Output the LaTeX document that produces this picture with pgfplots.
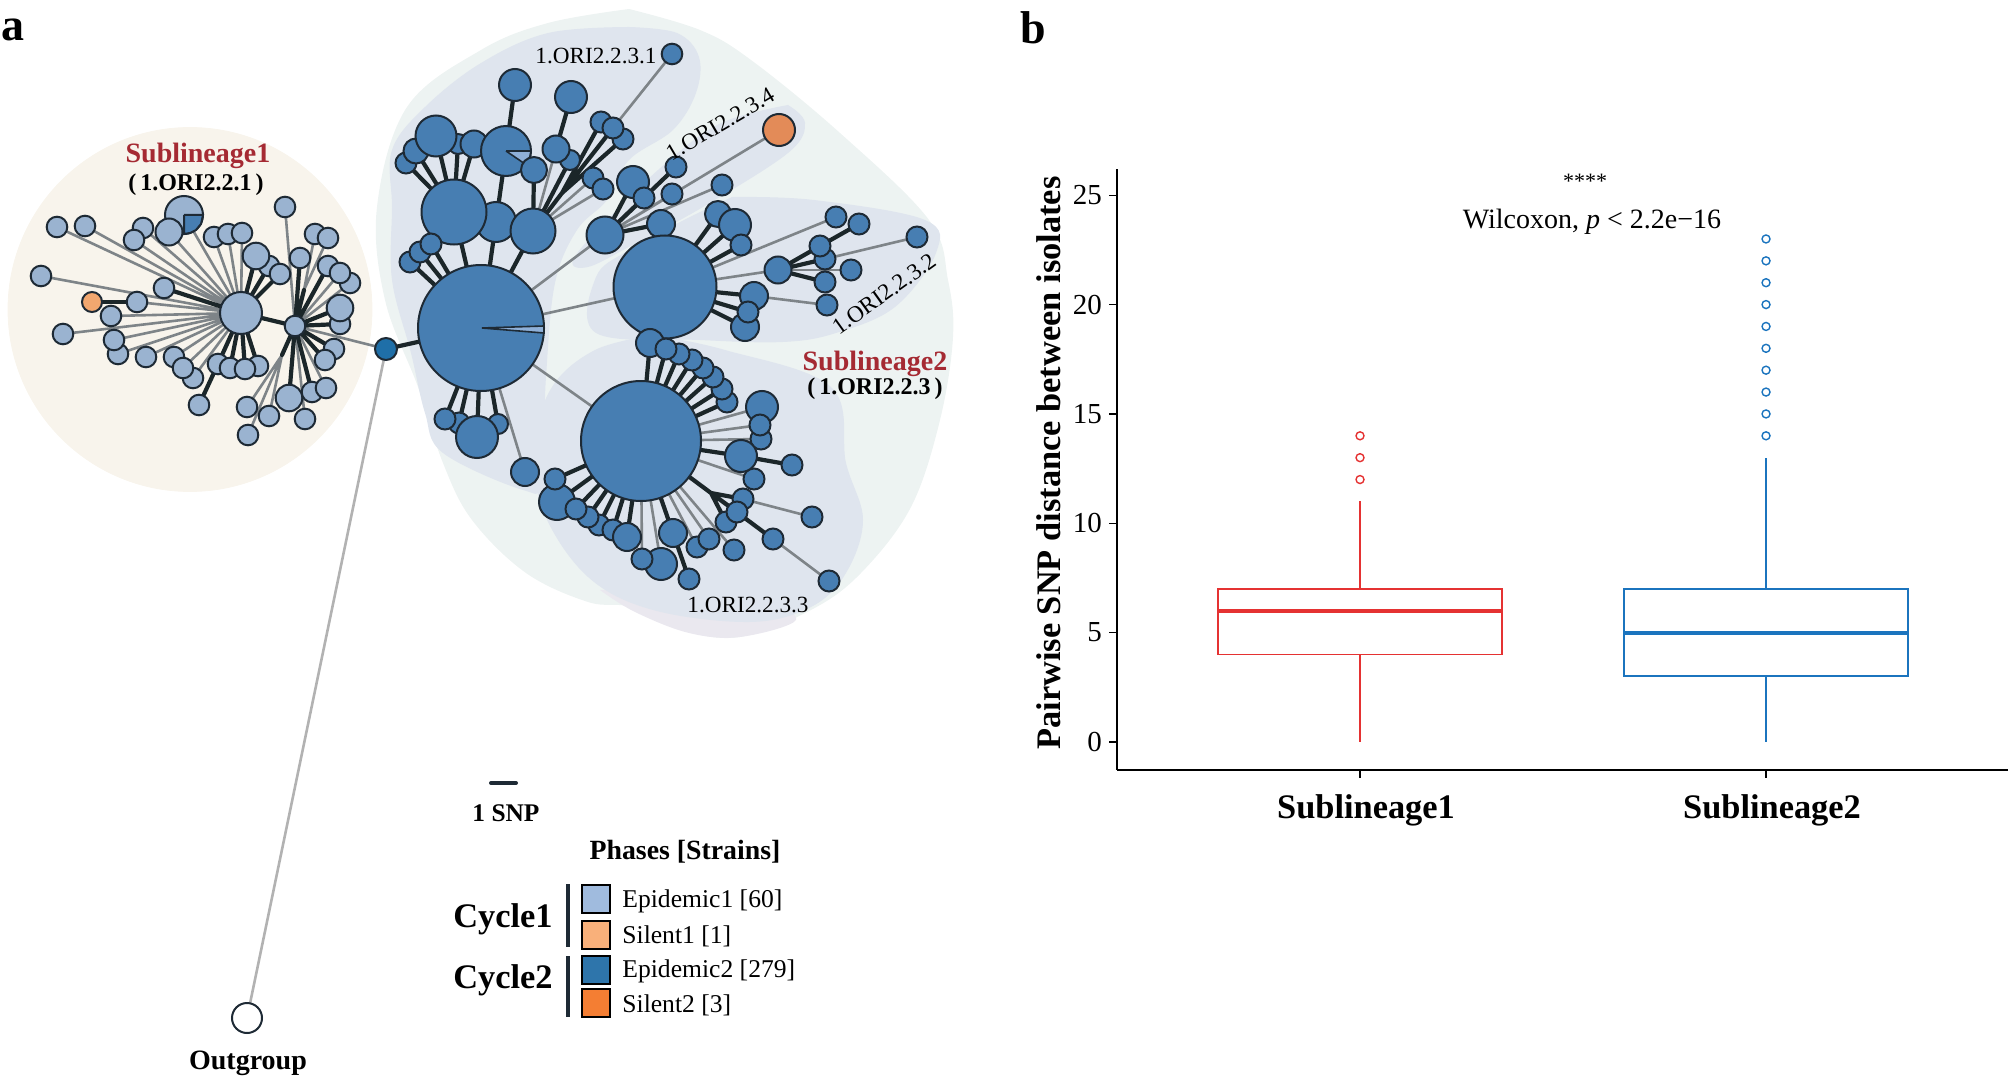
\documentclass[border=0pt]{standalone}
\usepackage{fontspec}
\setmainfont{Liberation Serif}
\usepackage{pgfplots}
\pgfplotsset{compat=1.18}
\usepackage{pgfplotstable}
\usepgfplotslibrary{statistics}

\definecolor{blobbase}{HTML}{F8F4EC}
\definecolor{bloblight}{HTML}{EDF3F2}
\definecolor{blobinner}{HTML}{DFE5EE}
\definecolor{bloblilac}{HTML}{EAE8EF}
\definecolor{epione}{HTML}{9AB3D0}
\definecolor{epitwo}{HTML}{477EB2}
\definecolor{silone}{HTML}{F2A76F}
\definecolor{siltwo}{HTML}{E38B58}
\definecolor{rootnode}{HTML}{1F6FA8}
\definecolor{slicelight}{HTML}{8FB0D8}
\definecolor{nodeedge}{HTML}{1E2A35}
\definecolor{edgedark}{HTML}{1B2629}
\definecolor{edgegray}{HTML}{7E8488}
\definecolor{titlered}{HTML}{A52A33}
\definecolor{boxred}{HTML}{E53232}
\definecolor{boxblue}{HTML}{1B74BE}
\definecolor{legA}{HTML}{A0BBDE}
\definecolor{legB}{HTML}{F9B07A}
\definecolor{legC}{HTML}{2E75AB}
\definecolor{legD}{HTML}{F47E33}

\pgfplotsset{
  canvas/.style={at={(0,0)}, anchor=south west,
    scale only axis, width=1004pt, height=540pt,
    xmin=0, xmax=2008, ymin=0, ymax=1080, y dir=reverse,
    hide axis, clip=false},
  netnode/.style={scatter, only marks, mark=*, scatter src=x,
    visualization depends on={\thisrow{r}/2 \as \rr},
    scatter/@pre marker code/.code={\scope[mark size=\rr]},
    scatter/@post marker code/.code={\endscope},
    mark options={fill=#1, draw=nodeedge, line width=1pt}},
  darkedge/.style={no marks, draw=edgedark, line width=2.1pt, line join=round, line cap=round},
  grayedge/.style={no marks, draw=edgegray, line width=1.3pt, line join=round, line cap=round},
  blob/.style={no marks, draw=none, fill=#1, smooth, tension=0.6},
}

% nodes, in pixels of the reference: x y radius
\pgfplotstableread{
x y r
57 227 10.3
85 226 10.3
41 276 10.3
63 334 10.3
111 316 10.3
137 302 10.3
164 288 10.3
118 354 10.3
114 340 10.3
146 357 10.3
174 357 10.3
193 378 10.3
183 368 10.3
199 405 10.3
218 364 10.3
258 366 10.3
230 368 10.3
245 369 10.3
143 228 10.3
134 240 10.3
184 215 19
214 237 10.3
228 234 10.3
242 233 10.3
269 266 10.3
280 274 10.3
256 256 13.3
285 207 10.3
300 258 10.3
315 234 10.3
328 238 10.3
328 266 10.3
350 283 10.3
340 273 10.3
340 324 10.3
340 308 13.3
334 349 10.3
325 360 10.3
312 392 10.3
326 388 10.3
289 398 13.3
247 407 10.3
269 416 10.3
305 419 10.3
248 435 10.3
241 313 21
295 326 10.3
}\nodesone

\pgfplotstableread{
x y r
672 54 10.3
515 85 16
571 97 16
623 139 10.5
601 122 10.5
613 128 10.5
406 163 10.5
416 151 12.5
458 144 10
474 144 13.5
436 136 20.5
506 151 25
570 160 10
556 149 13.5
593 178 10.5
603 189 10.5
496 222 20
454 212 32.5
533 231 22.5
605 235 18.5
633 182 16
644 198 10.5
676 167 10.5
672 194 10.5
722 185 10.5
661 224 14
410 262 10.5
420 252 10.5
431 244 10.5
718 214 13
735 225 16
741 245 10.5
836 217 10.5
859 224 10.5
917 237 10.5
825 259 10.5
820 246 10.5
778 270 13.5
851 270 10.5
825 282 10.5
827 305 10.5
745 327 14
754 296 14
748 312 10.5
665 287 51.5
727 402 10.5
722 389 10.5
713 377 10.5
703 368 10.5
692 360 10.5
679 354 10.5
650 343 14
666 349 10.5
762 407 16
761 439 10.5
760 425 10.5
754 479 10.5
741 456 16
792 465 10.5
812 517 10.5
743 499 10.5
726 522 10.5
737 512 10.5
773 539 10.5
829 581 10.5
734 550 10.5
697 547 10.5
709 539 10.5
673 533 14
689 579 10.5
661 564 16
642 559 10.5
599 525 10.5
613 530 10.5
627 537 14
588 517 10.5
557 502 18
576 509 10.5
555 479 10.5
641 441 60
498 424 10
459 423 10.5
445 419 10.5
477 437 21
525 472 14
481 328 63
}\nodestwo

\begin{document}
\begin{tikzpicture}
\useasboundingbox (0,0) rectangle (1004pt,540pt);

% panel a: whole page as an axis in reference pixels, marks land above all
% paths of one axis, hence three stacked axes
\begin{axis}[canvas]
\addplot[blob=bloblight] coordinates {
  (629,9) (700,30) (751,60) (840,133) (929,220) (948,280) (953,337) (940,420)
  (911,507) (861,573) (811,610) (740,637) (682,630) (631,607) (588,602) (526,573)
  (472,520) (443,463) (418,387) (385,300) (377,207) (407,107) (481,50) (548,23) (629,9)};
\addplot[blob=bloblilac] coordinates {
  (600,590) (635,612) (689,633) (740,637) (796,620) (760,600) (680,590) (600,590)};
\addplot[blob=blobinner] coordinates {
  (629,27) (677,33) (699,57) (696,93) (673,130) (629,160) (607,200) (577,230)
  (555,283) (546,377) (541,480) (523,490) (443,453) (425,413) (411,353) (392,280)
  (392,207) (392,150) (425,107) (481,63) (548,33) (629,27)};
\addplot[blob=blobinner] coordinates {
  (788,105) (805,123) (788,153) (703,207) (629,247) (588,267) (573,260) (607,220)
  (666,163) (721,123) (788,105)};
\addplot[blob=blobinner] coordinates {
  (732,197) (814,200) (925,220) (936,253) (895,307) (836,333) (783,342) (700,340)
  (596,333) (596,277) (629,250) (684,220) (732,197)};
\addplot[blob=blobinner] coordinates {
  (653,335) (725,350) (831,387) (846,463) (863,520) (846,573) (811,607) (750,622)
  (653,610) (588,577) (544,513) (534,447) (552,387) (595,350) (653,335)};
\addplot[netnode=blobbase, mark options={draw=blobbase, fill=blobbase}] table {
x y r
190 309.5 182
};
\end{axis}

\begin{axis}[canvas]
% outgroup branch
\addplot[no marks, draw=black!30, line width=1.3pt] coordinates {(386,349) (247,1018)};

% sublineage 1 edges
\addplot[grayedge] coordinates {(241,313)(57,227)(241,313)(85,226)(241,313)(41,276)(241,313)(63,334)
  (241,313)(111,316)(241,313)(137,302)(241,313)(114,340)(241,313)(118,354)(241,313)(146,357)
  (241,313)(174,357)(241,313)(183,368)(241,313)(193,378)(241,313)(143,228)(241,313)(134,240)
  (241,313)(184,215)(241,313)(169,232)(241,313)(214,237)(241,313)(228,234)(241,313)(242,233)};
\addplot[darkedge] coordinates {(241,313)(164,288)(241,313)(256,256)(241,313)(269,266)(241,313)(280,274)
  (241,313)(218,364)(241,313)(230,368)(241,313)(245,369)(241,313)(258,366)(241,313)(295,326)};
\addplot[darkedge] coordinates {(218,364)(199,405)};
\addplot[darkedge] coordinates {(92,302)(137,302)};
\addplot[grayedge] coordinates {(295,326)(285,207)(295,326)(350,283)(295,326)(340,273)(295,326)(326,388)
  (295,326)(305,419)(295,326)(386,349)};
\addplot[grayedge] coordinates {(304,290)(315,234)(304,290)(328,238)};
\addplot[grayedge] coordinates {(282,355)(247,407)(282,355)(269,416)(282,355)(248,435)};
\addplot[darkedge] coordinates {(295,326)(300,258)(295,326)(304,290)(295,326)(328,266)(295,326)(340,308)
  (295,326)(340,324)(295,326)(334,349)(295,326)(325,360)(295,326)(289,398)(295,326)(312,392)(295,326)(282,355)};

% sublineage 2 edges
\addplot[darkedge] coordinates {(386,349)(481,328)};
\addplot[grayedge] coordinates {(481,328)(605,235)(481,328)(665,287)(481,328)(641,441)(481,328)(525,472)};
\addplot[darkedge] coordinates {(481,328)(454,212)(481,328)(496,222)(481,328)(533,231)(481,328)(410,262)
  (481,328)(420,252)(481,328)(431,244)(481,328)(445,419)(481,328)(459,423)(481,328)(477,437)(481,328)(498,424)};
\addplot[darkedge] coordinates {(454,212)(406,163)(454,212)(416,151)(454,212)(436,136)(454,212)(458,144)(454,212)(474,144)};
\addplot[darkedge] coordinates {(496,222)(506,151)(515,85)};
\addplot[darkedge] coordinates {(533,231)(534,170)};
\addplot[darkedge] coordinates {(533,231)(570,160)};
\addplot[darkedge] coordinates {(556,149)(571,97)};
\addplot[darkedge] coordinates {(533,231)(562,193)(601,122)(562,193)(613,128)(562,193)(623,139)};
\addplot[grayedge] coordinates {(533,231)(556,149)};
\addplot[grayedge] coordinates {(533,231)(603,189)};
\addplot[grayedge] coordinates {(533,231)(593,178)};
\addplot[grayedge] coordinates {(613,128)(672,54)};
\addplot[darkedge] coordinates {(605,235)(633,182)(605,235)(644,198)(605,235)(676,167)(605,235)(661,224)};
\addplot[grayedge] coordinates {(605,235)(672,194)(605,235)(722,185)(605,235)(779,130)};
\addplot[darkedge] coordinates {(665,287)(718,214)(665,287)(735,225)(665,287)(741,245)(665,287)(754,296)(665,287)(748,312)(665,287)(745,327)};
\addplot[grayedge] coordinates {(665,287)(836,217)(665,287)(778,270)};
\addplot[darkedge] coordinates {(778,270)(820,246)(859,224)(820,246)(778,270)(825,259)(778,270)(825,282)};
\addplot[grayedge] coordinates {(778,270)(851,270)};
\addplot[grayedge] coordinates {(825,259)(917,237)};
\addplot[grayedge] coordinates {(754,296)(827,305)};
\addplot[darkedge] coordinates {(641,441)(650,343)(641,441)(666,349)(641,441)(679,354)(641,441)(692,360)(641,441)(703,368)
  (641,441)(713,377)(641,441)(722,389)(641,441)(727,402)(641,441)(741,456)(792,465)};
\addplot[grayedge] coordinates {(641,441)(762,407)(641,441)(760,425)(641,441)(761,439)(641,441)(754,479)(641,441)(734,550)
  (641,441)(709,539)(641,441)(697,547)(641,441)(642,559)(641,441)(661,564)};
\addplot[darkedge] coordinates {(641,441)(711,493)(743,499)(711,493)(737,512)(711,493)(726,522)(711,493)(773,539)};
\addplot[grayedge] coordinates {(743,499)(812,517)};
\addplot[grayedge] coordinates {(773,539)(829,581)};
\addplot[darkedge] coordinates {(641,441)(673,533)(689,579)};
\addplot[darkedge] coordinates {(641,441)(627,537)(641,441)(613,530)(641,441)(599,525)(641,441)(588,517)(641,441)(576,509)
  (641,441)(557,502)(641,441)(555,479)};

% nodes
\addplot[netnode=epione] table {\nodesone};
\addplot[netnode=silone] table {
x y r
92 302 10
};
\addplot[netnode=rootnode] table {
x y r
386 349 11
};
\addplot[netnode=epitwo] table {\nodestwo};
\addplot[netnode=siltwo] table {
x y r
779 130 16
};
\addplot[netnode=white] table {
x y r
247 1018 15
};
\end{axis}

\begin{axis}[canvas]
% mixed nodes: their slices, and what lies over those
\addplot[fill=epitwo, draw=nodeedge, line width=1pt, no marks] coordinates {
  (184,215)(203,215)(201,224)(196,230)(190,233)(184,234)(184,215)};
\addplot[fill=slicelight, draw=nodeedge, line width=0.8pt, no marks] coordinates {
  (506,151)(531,151)(528,166)(506,151)};
\addplot[fill=slicelight, draw=nodeedge, line width=0.8pt, no marks] coordinates {
  (482,328)(544,326)(544,333)(482,328)};
\addplot[netnode=epione] table {
x y r
169 232 13.5
};
\addplot[netnode=epitwo] table {
x y r
534 170 13
};

% legend
\addplot[no marks, draw=nodeedge, line width=2pt, line cap=round] coordinates {(491,783)(516,783)};
\addplot[no marks, draw=nodeedge, line width=1.6pt] coordinates {(568,884)(568,947)};
\addplot[no marks, draw=nodeedge, line width=1.6pt] coordinates {(568,956)(568,1017)};
\addplot[only marks, mark=square*, mark size=7pt, mark options={fill=legA, draw=black, line width=1.2pt}] coordinates {(596,899)};
\addplot[only marks, mark=square*, mark size=7pt, mark options={fill=legB, draw=black, line width=1.2pt}] coordinates {(596,935)};
\addplot[only marks, mark=square*, mark size=7pt, mark options={fill=legC, draw=black, line width=1.2pt}] coordinates {(596,970)};
\addplot[only marks, mark=square*, mark size=7pt, mark options={fill=legD, draw=black, line width=1.2pt}] coordinates {(596,1003)};

% texts
\node[font=\bfseries\fontsize{23}{23}\selectfont] at (13,30) {a};
\node[font=\bfseries\fontsize{23}{23}\selectfont] at (1033,28) {b};
\node[font=\bfseries\fontsize{14}{14}\selectfont, text=titlered] at (198,156) {Sublineage1};
\node[font=\bfseries\fontsize{12}{14}\selectfont] at (196,185) {(\,1.ORI2.2.1\,)};
\node[font=\bfseries\fontsize{14}{14}\selectfont, text=titlered] at (875,364) {Sublineage2};
\node[font=\bfseries\fontsize{12}{14}\selectfont] at (875,389) {(\,1.ORI2.2.3\,)};
\node[font=\fontsize{11.6}{14}\selectfont] at (596,56) {1.ORI2.2.3.1};
\node[font=\fontsize{11.6}{14}\selectfont, rotate=30.5] at (720,124) {1.ORI2.2.3.4};
\node[font=\fontsize{11.6}{14}\selectfont, rotate=35.6] at (884,294) {1.ORI2.2.3.2};
\node[font=\fontsize{11.6}{14}\selectfont] at (748,605) {1.ORI2.2.3.3};
\node[font=\bfseries\fontsize{12.7}{14}\selectfont] at (506,813) {1 SNP};
\node[font=\bfseries\fontsize{13.9}{14}\selectfont] at (685,852) {Phases [Strains]};
\node[font=\bfseries\fontsize{17.2}{18}\selectfont] at (503,919) {Cycle1};
\node[font=\bfseries\fontsize{17.2}{18}\selectfont] at (503,980) {Cycle2};
\node[font=\fontsize{12.8}{14}\selectfont, anchor=west, inner sep=0pt] at (622,901) {Epidemic1 [60]};
\node[font=\fontsize{12.8}{14}\selectfont, anchor=west, inner sep=0pt] at (622,936) {Silent1 [1]};
\node[font=\fontsize{12.8}{14}\selectfont, anchor=west, inner sep=0pt] at (622,971) {Epidemic2 [279]};
\node[font=\fontsize{12.8}{14}\selectfont, anchor=west, inner sep=0pt] at (622,1005) {Silent2 [3]};
\node[font=\bfseries\fontsize{14}{14}\selectfont] at (248,1063) {Outgroup};
\node[font=\fontsize{11}{12}\selectfont] at (1585,181) {****};
\node[font=\fontsize{14}{14}\selectfont] at (1592,222) {Wilcoxon, \textit{p} < 2.2e−16};
\end{axis}

% panel b
\begin{axis}[
  at={(558.5pt,155pt)}, anchor=south west,
  scale only axis, width=445.5pt, height=300.5pt,
  xmin=0.4015, xmax=2.596, ymin=-1.28, ymax=26.2,
  axis lines=left, axis line style={-, line width=0.9pt, black},
  xtick={1,2}, xticklabels={Sublineage1,Sublineage2},
  ytick={0,5,10,15,20,25},
  tick style={black, line width=0.7pt}, tick align=outside, major tick length=4pt,
  /pgf/number format/assume math mode=true,
  yticklabel style={font=\fontsize{14.5}{15}\selectfont},
  xticklabel style={font=\bfseries\fontsize{17.2}{18}\selectfont, xshift=3pt, yshift=-5pt},
  ylabel={\textbf{Pairwise SNP distance between isolates}},
  ylabel style={font=\bfseries\fontsize{17.2}{18}\selectfont, xshift=3.2pt, yshift=-1pt},
  boxplot/draw direction=y,
  boxplot/box extend=0.7, boxplot/whisker extend=0,
  boxplot/every median/.style={line width=2pt},
]
\addplot[boxred, line width=0.9pt, mark=o, mark size=2pt, mark options={line width=0.7pt},
  boxplot prepared={median=6, upper quartile=7, lower quartile=4, upper whisker=11, lower whisker=0, draw position=1}]
  coordinates {(0,12)(0,13)(0,14)};
\addplot[boxblue, line width=0.9pt, mark=o, mark size=2pt, mark options={line width=0.7pt},
  boxplot prepared={median=5, upper quartile=7, lower quartile=3, upper whisker=13, lower whisker=0, draw position=2}]
  coordinates {(0,14)(0,15)(0,16)(0,17)(0,18)(0,19)(0,20)(0,21)(0,22)(0,23)};
\end{axis}
\end{tikzpicture}
\end{document}
